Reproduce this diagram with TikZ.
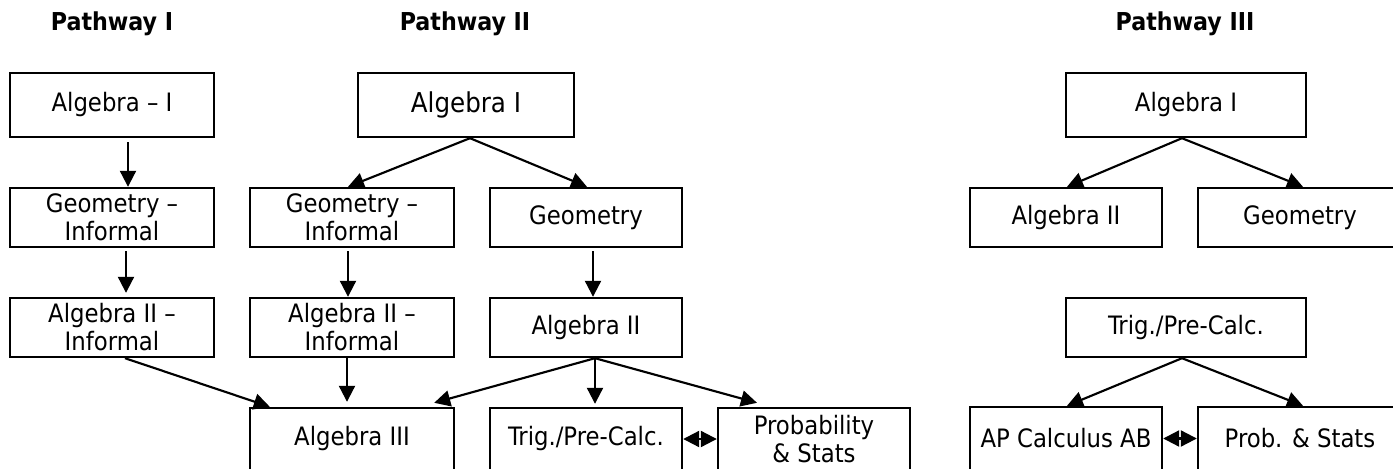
\documentclass[tikz,border=0pt]{standalone}
\usepackage{fontspec}
\setmainfont{DejaVu Sans Condensed}
\usetikzlibrary{calc, arrows.meta}

\tikzset{
  course/.style={draw, line width=1.8pt, rectangle, inner sep=0pt, align=center,
    minimum width=153pt, minimum height=44.25pt, font=\fontsize{19}{21}\selectfont},
  heading/.style={font=\fontsize{18.5}{21}\selectfont\bfseries},
  link/.style={->, line width=1.6pt},
}

\begin{document}
\begin{tikzpicture}[x=0.75pt, y=-0.75pt, >={Triangle[length=12pt,width=12pt]}]
        \useasboundingbox (0,0) rectangle (1393,468);
        \clip (0,0) rectangle (1393,468);

        % the three headings
        \node[heading] (headI) at (112,24) {Pathway I};
        \node[heading] (headII) at (465,24) {Pathway II};
        \node[heading] (headIII) at (1185,24) {Pathway III};

        % pathway I
        \node[course, minimum height=48pt] (alg1a) at (112,105) {Algebra -- I};
        \node[course] (geoinfa) at (112,217.5) {Geometry --\\ Informal};
        \node[course] (alg2infa) at (112,327.5) {Algebra II --\\ Informal};

        % pathway II
        \node[course, minimum width=162pt, minimum height=48pt, font=\fontsize{20.5}{21}\selectfont] (alg1b) at (466,105) {Algebra I};
        \node[course] (geoinfb) at (352,217.5) {Geometry --\\ Informal};
        \node[course, minimum width=144pt] (geob) at (586,217.5) {Geometry};
        \node[course] (alg2infb) at (352,327.5) {Algebra II --\\ Informal};
        \node[course, minimum width=144pt] (alg2b) at (586,327.5) {Algebra II};
        \node[course, minimum height=46.5pt] (alg3) at (352,439) {Algebra III};
        \node[course, minimum width=144pt, minimum height=46.5pt] (trigb) at (586,439) {Trig./Pre-Calc.};
        \node[course, minimum width=144pt, minimum height=46.5pt] (probb) at (814,439) {Probability\\ \& Stats};

        % pathway III
        \node[course, minimum width=180pt, minimum height=48pt] (alg1c) at (1186,105) {Algebra I};
        \node[course, minimum width=144pt] (alg2c) at (1066,217.5) {Algebra II};
        \node[course] (geoc) at (1300,217.5) {Geometry};
        \node[course, minimum width=180pt] (trigc) at (1186,327.5) {Trig./Pre-Calc.};
        \node[course, minimum width=144pt, minimum height=47.25pt] (apc) at (1066,438.5) {AP Calculus AB};
        \node[course, minimum height=47.25pt] (probc) at (1300,438.5) {Prob. \& Stats};

        % the arrows
        \draw[link] ($(alg1a.south)+(16,4)$) -- ($(geoinfa.north)+(16,0)$);
        \draw[link] ($(geoinfa.south)+(14,3)$) -- ($(alg2infa.north)+(14,-4)$);
        \draw[link] ($(alg2infa.south)+(13,0)$) -- ($(alg3.north west)+(21,0)$);

        \draw[link] ($(alg1b.south)+(4,0)$) -- ($(geoinfb.north)+(-4,0)$);
        \draw[link] ($(alg1b.south)+(4,0)$) -- ($(geob.north)+(1,0)$);
        \draw[link] ($(geoinfb.south)+(-4,3)$) -- ($(alg2infb.north)+(-4,0)$);
        \draw[link] ($(alg2infb.south)+(-5,0)$) -- ($(alg3.north)+(-5,-5)$);
        \draw[link] ($(geob.south)+(7,3)$) -- ($(alg2b.north)+(7,0)$);
        \draw[link] ($(alg2b.south)+(9,0)$) -- ($(alg3.north east)+(-21,-4)$);
        \draw[link] ($(alg2b.south)+(9,0)$) -- ($(trigb.north)+(9,-3)$);
        \draw[link] ($(alg2b.south)+(9,0)$) -- ($(probb.north)+(-57,-4)$);
        \draw[link, <->] (trigb.east) -- (probb.west);

        \draw[link] ($(alg1c.south)+(-4,0)$) -- ($(alg2c.north)+(1,0)$);
        \draw[link] ($(alg1c.south)+(-4,0)$) -- ($(geoc.north)+(3,0)$);
        \draw[link] ($(trigc.south)+(-4,0)$) -- ($(apc.north)+(1,0)$);
        \draw[link] ($(trigc.south)+(-4,0)$) -- ($(probc.north)+(3,0)$);
        \draw[link, <->] (apc.east) -- (probc.west);
\end{tikzpicture}
\end{document}
